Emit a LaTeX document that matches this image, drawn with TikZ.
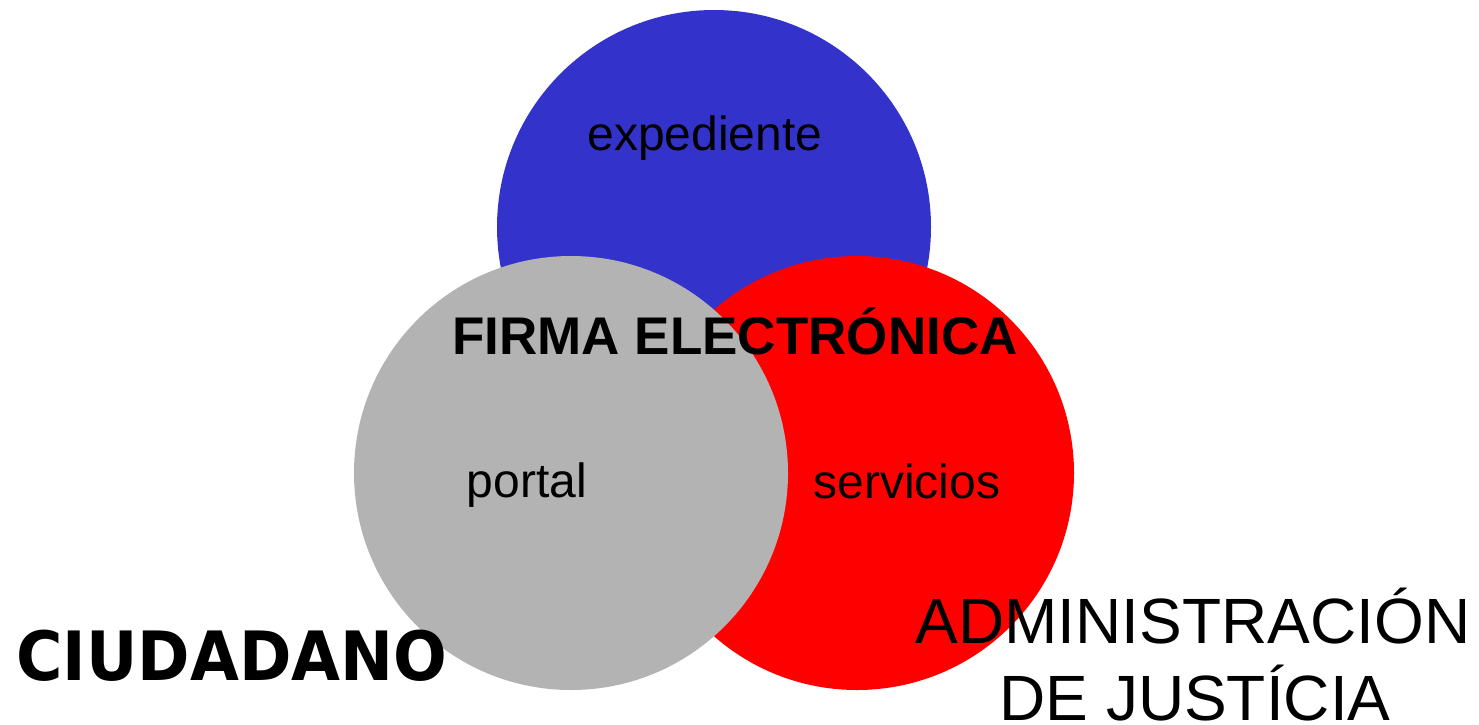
\documentclass[tikz,border=0pt]{standalone}
\usepackage{fontspec}
\setmainfont{Liberation Sans}
\newfontfamily\heavyfont{DejaVu Sans}
\definecolor{cblue}{HTML}{3333CC}
\definecolor{cred}{HTML}{FF0000}
\definecolor{cgrey}{HTML}{B3B3B3}
\begin{document}
\begin{tikzpicture}[x=1pt,y=-1pt,
  disc/.style={circle,minimum size=434pt,inner sep=0pt,draw=none},
  lbl/.style={anchor=base,inner sep=0pt,font=\fontsize{48}{56}\selectfont},
]
\useasboundingbox (0,0) rectangle (1479,724);
\fill[white] (0,0) rectangle (1479,724);
\node[disc,fill=cblue] (blue) at (714,227) {};
\node[disc,fill=cred] (red) at (857,473) {};
\node[disc,fill=cgrey] (grey) at (571,473) {};
\node[lbl] (exp) at (705,150) {expediente};
\node[lbl] (por) at (527,497) {portal};
\node[lbl] (ser) at (907,498) {servicios};
\node[anchor=base,inner sep=0pt,font=\fontsize{53}{60}\selectfont\bfseries] (firma) at (735,354) {FIRMA ELECTRÓNICA};
\node[anchor=base,inner sep=0pt,font=\heavyfont\fontsize{68}{70}\selectfont\bfseries] (ciu) at (232,680) {\scalebox{0.93}[1]{CIUDADANO}};
\node[anchor=base,inner sep=0pt,font=\fontsize{64}{70}\selectfont] (adm) at (1193,643) {ADMINISTRACIÓN};
\node[anchor=base,inner sep=0pt,font=\fontsize{64}{70}\selectfont] (jus) at (1195,720) {DE JUSTÍCIA};
\end{tikzpicture}
\end{document}
